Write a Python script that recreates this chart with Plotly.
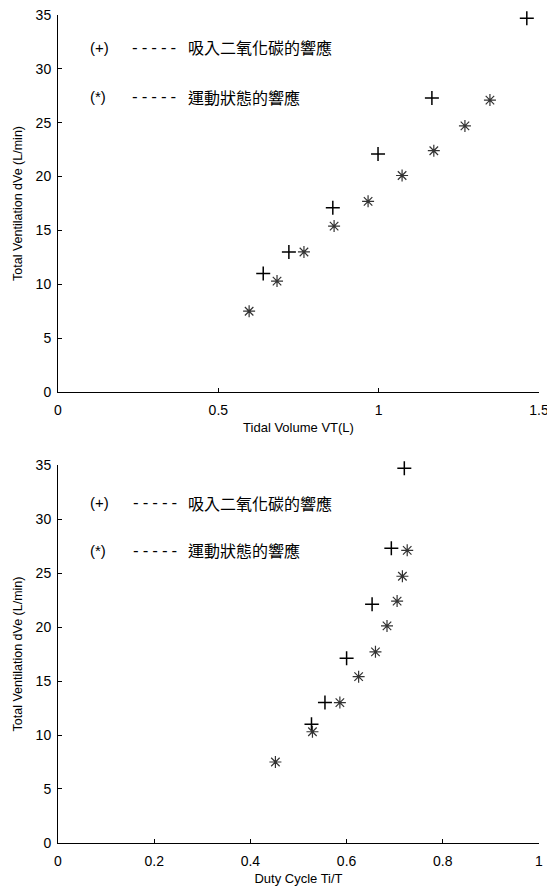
import plotly.graph_objects as go

# ---- data ----
co2_vt = [0.64, 0.72, 0.857, 0.998, 1.166, 1.462]
co2_ve = [11.0, 13.0, 17.1, 22.1, 27.3, 34.7]
ex_vt = [0.596, 0.683, 0.767, 0.861, 0.967, 1.073, 1.172, 1.269, 1.347]
ex_ve = [7.5, 10.3, 13.0, 15.4, 17.7, 20.1, 22.4, 24.7, 27.1]

co2_dc = [0.527, 0.555, 0.600, 0.653, 0.693, 0.720]
ex_dc = [0.452, 0.529, 0.586, 0.625, 0.660, 0.684, 0.705, 0.716, 0.726]

top_xticks = [0, 0.5, 1, 1.5]
top_xlabels = ["0", "0.5", "1", "1.5"]
bot_xticks = [0, 0.2, 0.4, 0.6, 0.8, 1]
bot_xlabels = ["0", "0.2", "0.4", "0.6", "0.8", "1"]
yticks = [0, 5, 10, 15, 20, 25, 30, 35]

legend_co2_mark = "(+)"
legend_ex_mark = "(*)"
legend_dash = "-----"
legend_co2_text = "吸入二氧化碳的響應"
legend_ex_text = "運動狀態的響應"

y_title = "Total Ventilation dVe (L/min)"
top_xtitle = "Tidal Volume VT(L)"
bot_xtitle = "Duty Cycle Ti/T"

FONT = "Liberation Sans, Arial, sans-serif"
MONO = "DejaVu Sans Mono, Liberation Mono, monospace"
CJK = "Noto Sans CJK TC, Noto Sans CJK SC, sans-serif"

fig = go.Figure()

plus = dict(symbol="cross-thin", size=10, color="black", line=dict(width=1.5, color="black"))
star = dict(symbol="asterisk", size=10, color="#333333", line=dict(width=1.2, color="#333333"))

fig.add_trace(go.Scatter(x=co2_vt, y=co2_ve, mode="markers", marker=plus, xaxis="x", yaxis="y", cliponaxis=False))
fig.add_trace(go.Scatter(x=ex_vt, y=ex_ve, mode="markers", marker=star, xaxis="x", yaxis="y", cliponaxis=False))
fig.add_trace(go.Scatter(x=co2_dc, y=co2_ve, mode="markers", marker=plus, xaxis="x2", yaxis="y2", cliponaxis=False))
fig.add_trace(go.Scatter(x=ex_dc, y=ex_ve, mode="markers", marker=star, xaxis="x2", yaxis="y2", cliponaxis=False))

axis_common = dict(showline=True, linecolor="black", linewidth=1, ticks="inside", ticklen=4,
                   tickcolor="black", showgrid=False, zeroline=False, mirror=False, automargin=False,
                   ticklabeloverflow="allow",
                   tickfont=dict(family=FONT, size=14, color="black"))

xtitle_font = dict(family=FONT, size=13, color="black")
ytitle_font = dict(family=FONT, size=12.5, color="black")

fig.update_layout(
    width=547, height=880,
    margin=dict(l=50, r=16, t=7, b=45),
    plot_bgcolor="white", paper_bgcolor="white",
    showlegend=False,
    xaxis=dict(domain=[0, 1], range=[0, 1.5], tickvals=top_xticks, ticktext=top_xlabels,
               anchor="y", ticklabelstandoff=5,
               title=dict(text=top_xtitle, font=xtitle_font, standoff=6), **axis_common),
    yaxis=dict(domain=[0.5447, 1], range=[0, 35], tickvals=yticks, anchor="x", ticklabelstandoff=3,
               title=dict(text=y_title, font=ytitle_font, standoff=10), **axis_common),
    xaxis2=dict(domain=[0, 1], range=[0, 1], tickvals=bot_xticks, ticktext=bot_xlabels,
                anchor="y2", ticklabelstandoff=5,
                title=dict(text=bot_xtitle, font=xtitle_font, standoff=6), **axis_common),
    yaxis2=dict(domain=[0, 0.4565], range=[0, 35], tickvals=yticks, anchor="x2", ticklabelstandoff=3,
                title=dict(text=y_title, font=ytitle_font, standoff=10), **axis_common),
)

# legend-like text blocks: (xref, yref, mark x, dash x, text x, y line1, y line2)
blocks = [("x", "y", 0.094, 0.219, 0.399, 32.0, 27.4),
          ("x2", "y2", 0.062, 0.147, 0.266, 31.5, 27.1)]
for xr, yr, xm, xd, xt, y1, y2 in blocks:
    for yy, mark, txt in [(y1, legend_co2_mark, legend_co2_text), (y2, legend_ex_mark, legend_ex_text)]:
        fig.add_annotation(x=xm, y=yy, xref=xr, yref=yr, text=mark, showarrow=False,
                           xanchor="left", yanchor="middle",
                           font=dict(family=FONT, size=15, color="black"))
        fig.add_annotation(x=xd, y=yy, xref=xr, yref=yr, text=legend_dash, showarrow=False,
                           xanchor="left", yanchor="middle",
                           font=dict(family=MONO, size=16, color="black"))
        fig.add_annotation(x=xt, y=yy, xref=xr, yref=yr, text=txt, showarrow=False,
                           xanchor="left", yanchor="middle",
                           font=dict(family=CJK, size=16, color="black"))

fig.write_html("out.html")
